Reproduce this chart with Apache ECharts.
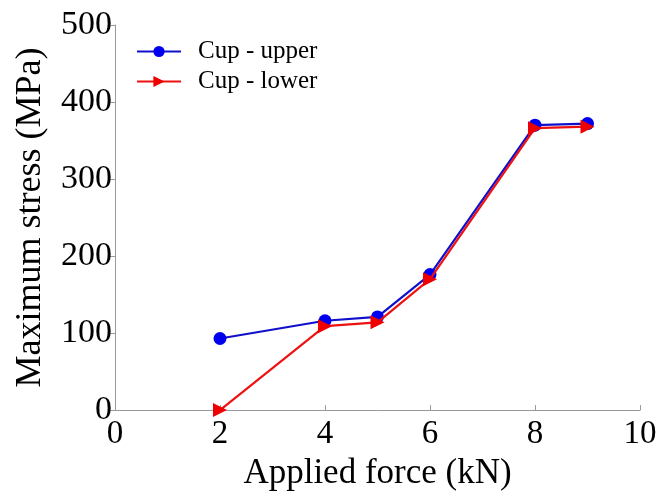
<!DOCTYPE html>
<html><head><meta charset="utf-8">
<script src="https://cdn.jsdelivr.net/npm/echarts@6/dist/echarts.min.js"></script>
<style>html,body{margin:0;padding:0;background:#fff}#c{width:662px;height:496px}</style>
</head><body><div id="c"></div>
<script>
const forces = [2, 4, 5, 6, 8, 9];
const upper = [93, 116, 121, 176, 370, 372];
const lower = [0, 109, 114, 170, 366, 368];
const xTicks = [0, 2, 4, 6, 8, 10];
const yTicks = [0, 100, 200, 300, 400, 500];
const seriesNames = ['Cup - upper', 'Cup - lower'];

const font = 'Liberation Serif';
const chart = echarts.init(document.getElementById('c'));
chart.setOption({
  animation: false,
  grid: {left: 115, right: 22, top: 25, bottom: 80, containLabel: false},
  legend: {
    left: 131, top: 34, orient: 'vertical', itemWidth: 44, itemHeight: 14, itemGap: 5,
    textStyle: {fontFamily: font, fontSize: 25, color: '#000', padding: [0, 0, 0, 12]},
    data: seriesNames
  },
  xAxis: {
    type: 'value', min: xTicks[0], max: xTicks[xTicks.length-1], interval: 2,
    name: 'Applied force (kN)', nameLocation: 'middle', nameGap: 44,
    nameTextStyle: {fontFamily: font, fontSize: 35, color: '#000'},
    axisLine: {lineStyle: {color: '#999', width: 1}},
    axisTick: {show: true, inside: true, length: 5, lineStyle: {color: '#999'}},
    axisLabel: {fontFamily: font, fontSize: 33, color: '#000', margin: 8},
    splitLine: {show: false}
  },
  yAxis: {
    type: 'value', min: yTicks[0], max: yTicks[yTicks.length-1], interval: 100,
    name: 'Maximum stress (MPa)', nameLocation: 'middle', nameGap: 66,
    nameTextStyle: {fontFamily: font, fontSize: 36, color: '#000'},
    axisLine: {show: true, lineStyle: {color: '#999', width: 1}},
    axisTick: {show: true, inside: false, length: 5, lineStyle: {color: '#999'}},
    axisLabel: {fontFamily: font, fontSize: 34, color: '#000', margin: 3},
    splitLine: {show: false}
  },
  series: [
    {
      name: seriesNames[0], type: 'line', data: forces.map((f, i) => [f, upper[i]]),
      symbol: 'circle', symbolSize: 13, color: '#0000ee',
      lineStyle: {color: '#1010cc', width: 2.2}, itemStyle: {color: '#0000ee'}, z: 2
    },
    {
      name: seriesNames[1], type: 'line', data: forces.map((f, i) => [f, lower[i]]),
      symbol: 'triangle', symbolSize: [14, 14], symbolRotate: -90, color: '#ee0000',
      lineStyle: {color: '#ee1111', width: 2.2}, itemStyle: {color: '#ee0000'}, z: 3
    }
  ]
});
</script></body></html>
